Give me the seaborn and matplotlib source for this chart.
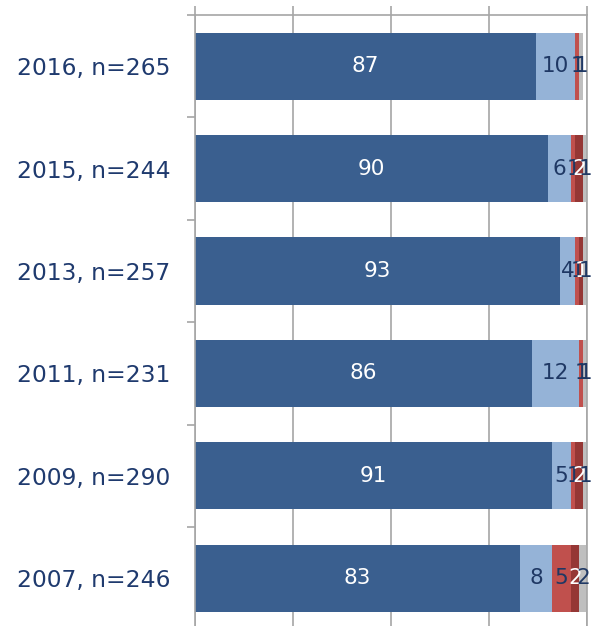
import matplotlib
matplotlib.use("Agg")
import matplotlib.pyplot as plt
import seaborn as sns
import numpy as np
import pandas as pd
from matplotlib.ticker import FixedLocator

categories = ["2016, n=265", "2015, n=244", "2013, n=257", "2011, n=231", "2009, n=290", "2007, n=246"]
s_dark = [87, 90, 93, 86, 91, 83]
s_light = [10, 6, 4, 12, 5, 8]
s_red = [1, 1, 1, 1, 1, 5]
s_darkred = [0, 2, 1, 0, 2, 2]
s_grey = [1, 1, 1, 1, 1, 2]
xticks = [0, 25, 50, 75, 100]

series = [s_dark, s_light, s_red, s_darkred, s_grey]
colors = ["#3A5F8F", "#95B3D7", "#C0504D", "#953735", "#BFBFBF"]
label_colors = ["white", "#1F3864", "#1F3864", "white", "#1F3864"]

sns.set_style("white")
plt.rcParams['font.family'] = ['DejaVu Sans']

fig = plt.figure(figsize=(5.95, 6.26), dpi=100)
ax = fig.add_axes([195/595, 1 - 15/626 - 624.6/626, 392/595, 624.6/626])

vals = np.array(series, dtype=float)
cum = np.cumsum(vals, axis=0)

# draw widest cumulative first so the stacks overlay correctly
for i in range(len(series) - 1, -1, -1):
    df = pd.DataFrame({"cat": categories, "val": cum[i]})
    sns.barplot(data=df, x="val", y="cat", order=categories, color=colors[i],
                width=0.655, linewidth=0, saturation=1, ax=ax, orient="h")

# labels
for i in range(len(series)):
    for j in range(len(categories)):
        v = vals[i, j]
        if v <= 0:
            continue
        center = cum[i, j] - v / 2
        ax.text(center, j, f"{v:.0f}", ha="center", va="center",
                color=label_colors[i], fontsize=15.5)

ax.set_xlim(0, 100)
ax.set_ylim(5.6, -0.5)
ax.set_xlabel("")
ax.set_ylabel("")

grid_c = "#A6A6A6"
ax.set_axisbelow(True)
ax.xaxis.tick_top()
ax.set_xticks(xticks)
ax.set_xticklabels([])
ax.tick_params(axis="x", which="major", direction="out", length=6.5, width=1.2,
               color=grid_c, top=True, bottom=False)
ax.grid(axis="x", color=grid_c, linewidth=1.2)
ax.grid(axis="y", visible=False)

ax.yaxis.set_minor_locator(FixedLocator(np.arange(-0.5, 6, 1.0)))
ax.tick_params(axis="y", which="minor", direction="out", length=6, width=1.2,
               color=grid_c, left=True)
ax.tick_params(axis="y", which="major", length=0, pad=17.5, labelsize=16.8,
               labelcolor="#1F3A6E")

for side in ["top", "left", "right"]:
    ax.spines[side].set_visible(True)
    ax.spines[side].set_color(grid_c)
    ax.spines[side].set_linewidth(1.2)
ax.spines["bottom"].set_visible(False)

fig.savefig("out.png", dpi=100)
